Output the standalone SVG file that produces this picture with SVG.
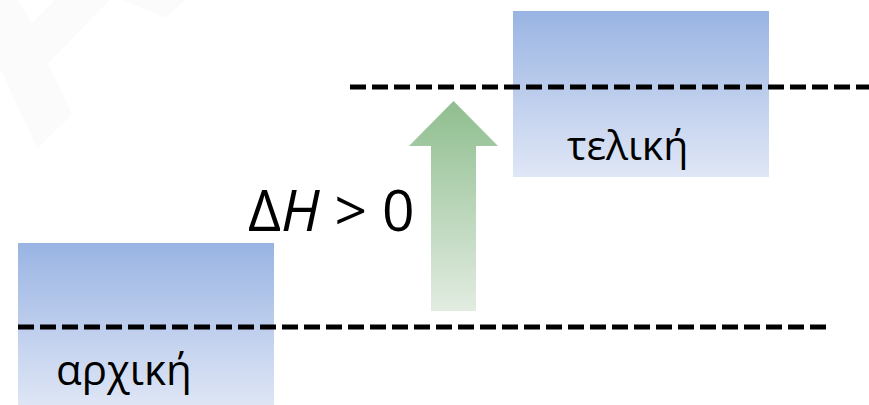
<svg xmlns="http://www.w3.org/2000/svg" width="869" height="405" viewBox="0 0 869 405">
  <defs>
    <linearGradient id="blueGrad" x1="0" y1="0" x2="0" y2="1">
      <stop offset="0" stop-color="#99b4e3"/>
      <stop offset="1" stop-color="#e0e7f6"/>
    </linearGradient>
    <linearGradient id="greenGrad" x1="0" y1="0" x2="0" y2="1">
      <stop offset="0" stop-color="#8fbe8f"/>
      <stop offset="1" stop-color="#e2ece1"/>
    </linearGradient>
    <style>
      .box { fill: url(#blueGrad); }
      .level { stroke: #000; stroke-width: 5; stroke-dasharray: 16 6; fill: none; }
      .label { font-family: "Open Sans", "Noto Sans", sans-serif; fill: #000; }
    </style>
  </defs>
  <rect width="869" height="405" fill="#ffffff"/>
  <g id="watermark" fill="#fbfbfb">
    <polygon points="0,0 18,0 32,23 55,0 110,0 48,63 72,115 37,148 0,68"/>
    <polygon points="122,0 166,18 185,0"/>
  </g>
  <g id="initial">
    <rect class="box" x="18" y="243" width="256" height="166"/>
    <text class="label" x="56" y="385" font-size="42">αρχική</text>
  </g>
  <g id="final">
    <rect class="box" x="513" y="11" width="256" height="166"/>
    <text class="label" x="567" y="160" font-size="41">τελική</text>
  </g>
  <g id="connectors">
    <line class="level" x1="18" y1="327" x2="829" y2="327"/>
    <line class="level" x1="350" y1="87" x2="869" y2="87"/>
    <polygon id="arrow" fill="url(#greenGrad)" points="431,311 431,146 409,146 453.5,101 498,146 476,146 476,311"/>
  </g>
  <g id="deltaH">
    <text class="label" x="248" y="231" font-size="57"><tspan>Δ</tspan><tspan font-style="italic">H</tspan><tspan> &gt; 0</tspan></text>
  </g>
</svg>
